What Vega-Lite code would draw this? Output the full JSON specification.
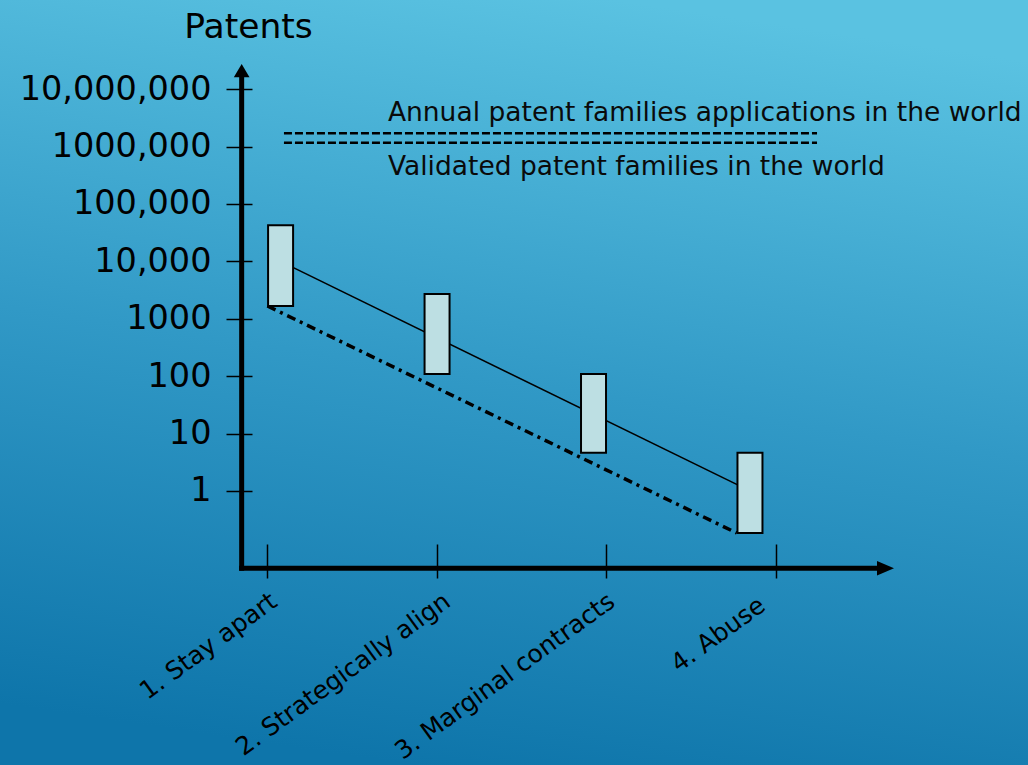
{
  "$schema": "https://vega.github.io/schema/vega-lite/v6.json",
  "width": 1028,
  "height": 765,
  "autosize": "none",
  "padding": 0,
  "background": "#3199c6",
  "config": {
    "view": {
      "stroke": null,
      "fill": {
        "gradient": "linear",
        "x1": 0.6, "y1": 0, "x2": 0.4, "y2": 1,
        "stops": [
          {"offset": 0, "color": "#5ac2e1"},
          {"offset": 0.5, "color": "#3199c6"},
          {"offset": 1, "color": "#0e75aa"}
        ]
      }
    },
    "axis": {"grid": false, "domain": false, "tickColor": "#000000", "tickWidth": 1.5, "labelColor": "#000000", "labelFont": "DejaVu Sans", "titleFont": "DejaVu Sans", "titleColor": "#000000", "titleFontWeight": "normal", "labelLimit": 0}
  },
  "datasets": {
    "boxes": [
      {"stage": "1. Stay apart", "x": 1.0777, "low": 1668, "high": 42560},
      {"stage": "2. Strategically align", "x": 2.0012, "low": 109, "high": 2701},
      {"stage": "3. Marginal contracts", "x": 2.9246, "low": 4.63, "high": 109},
      {"stage": "4. Abuse", "x": 3.848, "low": 0.1846, "high": 4.63}
    ],
    "trend": [
      {"x": 1.0777, "y": 10000},
      {"x": 3.848, "y": 1}
    ],
    "lower": [
      {"x": 1.0, "y": 1668},
      {"x": 3.77, "y": 0.1846}
    ],
    "world": [
      {"series": "Annual patent families applications", "x": 1.0976, "y": 1708000},
      {"series": "Annual patent families applications", "x": 4.2437, "y": 1708000},
      {"series": "Validated patent families", "x": 1.0976, "y": 1170000},
      {"series": "Validated patent families", "x": 4.2437, "y": 1170000}
    ],
    "notes": [
      {"text": "Annual patent families applications in the world", "x": 1.711, "y": 2829000},
      {"text": "Validated patent families in the world", "x": 1.711, "y": 320100}
    ],
    "axislines": [
      {"x": 0.848, "x2": 0.848, "y": 0.04479, "y2": 15700000},
      {"x": 0.848, "x2": 4.606, "y": 0.04479, "y2": 0.04479}
    ],
    "yarrow": [{"x": 0.848, "y": 21040000}],
    "xarrow": [{"x": 4.648, "y": 0.04479}]
  },
  "encoding": {
    "x": {
      "type": "quantitative",
      "scale": {"domain": [-0.5488, 5.4594], "nice": false, "zero": false},
      "axis": {
        "title": null,
        "values": [1, 2, 3, 4],
        "labelExpr": "['1. Stay apart','2. Strategically align','3. Marginal contracts','4. Abuse'][datum.value - 1]",
        "offset": -221,
        "tickSize": 34,
        "labelAngle": -36,
        "labelAlign": "right",
        "labelBaseline": "middle",
        "labelPadding": {"condition": {"test": "datum.value == 4", "value": 24}, "value": 20},
        "labelOffset": {"condition": [
          {"test": "datum.value == 2", "value": 10},
          {"test": "datum.value == 3", "value": 5},
          {"test": "datum.value == 4", "value": -14}
        ], "value": 6},
        "labelFontSize": 25,
        "labelOverlap": false,
        "labelBound": false,
        "labelFlush": false
      }
    },
    "y": {
      "type": "quantitative",
      "scale": {"type": "log", "domain": [0.000016713, 359100000], "nice": false, "zero": false},
      "axis": {
        "title": "Patents",
        "titleAngle": 0,
        "titleX": -4,
        "titleY": 37,
        "titleAlign": "center",
        "titleBaseline": "alphabetic",
        "titleFontSize": 34.5,
        "values": [1, 10, 100, 1000, 10000, 100000, 1000000, 10000000],
        "labelExpr": "datum.value == 1000000 ? '1000,000' : datum.value == 1000 ? '1000' : format(datum.value, ',')",
        "offset": -252,
        "tickSize": 26,
        "labelPadding": 15,
        "labelFontSize": 33.5,
        "labelBaseline": "middle",
        "labelOverlap": false,
        "labelBound": false,
        "labelFlush": false
      }
    }
  },
  "layer": [
    {
      "data": {"name": "world"},
      "mark": {"type": "line", "color": "#000000", "strokeWidth": 2.5, "strokeDash": [8, 3]},
      "encoding": {
        "x": {"field": "x"},
        "y": {"field": "y"},
        "detail": {"field": "series", "type": "nominal"}
      }
    },
    {
      "data": {"name": "trend"},
      "mark": {"type": "line", "color": "#000000", "strokeWidth": 1.6},
      "encoding": {"x": {"field": "x"}, "y": {"field": "y"}}
    },
    {
      "data": {"name": "lower"},
      "mark": {"type": "line", "color": "#000000", "strokeWidth": 3.5, "strokeDash": [9, 5, 3, 5]},
      "encoding": {"x": {"field": "x"}, "y": {"field": "y"}}
    },
    {
      "data": {"name": "boxes"},
      "mark": {"type": "bar", "width": 25, "fill": "#bddfe3", "stroke": "#000000", "strokeWidth": 2, "opacity": 1},
      "encoding": {"x": {"field": "x"}, "y": {"field": "high"}, "y2": {"field": "low"}}
    },
    {
      "data": {"name": "axislines"},
      "mark": {"type": "rule", "color": "#000000", "strokeWidth": 5, "strokeCap": "square"},
      "encoding": {"x": {"field": "x"}, "x2": {"field": "x2"}, "y": {"field": "y"}, "y2": {"field": "y2"}}
    },
    {
      "data": {"name": "yarrow"},
      "mark": {"type": "point", "shape": "M0,-1L1.18,1L-1.18,1Z", "size": 177, "filled": true, "color": "#000000", "opacity": 1},
      "encoding": {"x": {"field": "x"}, "y": {"field": "y"}}
    },
    {
      "data": {"name": "xarrow"},
      "mark": {"type": "point", "shape": "M1,0L-1,-0.86L-1,0.86Z", "size": 289, "filled": true, "color": "#000000", "opacity": 1},
      "encoding": {"x": {"field": "x"}, "y": {"field": "y"}}
    },
    {
      "data": {"name": "notes"},
      "mark": {"type": "text", "font": "DejaVu Sans", "fontSize": 26.5, "color": "#0a0a0a", "align": "left", "baseline": "alphabetic"},
      "encoding": {"x": {"field": "x"}, "y": {"field": "y"}, "text": {"field": "text"}}
    }
  ]
}
